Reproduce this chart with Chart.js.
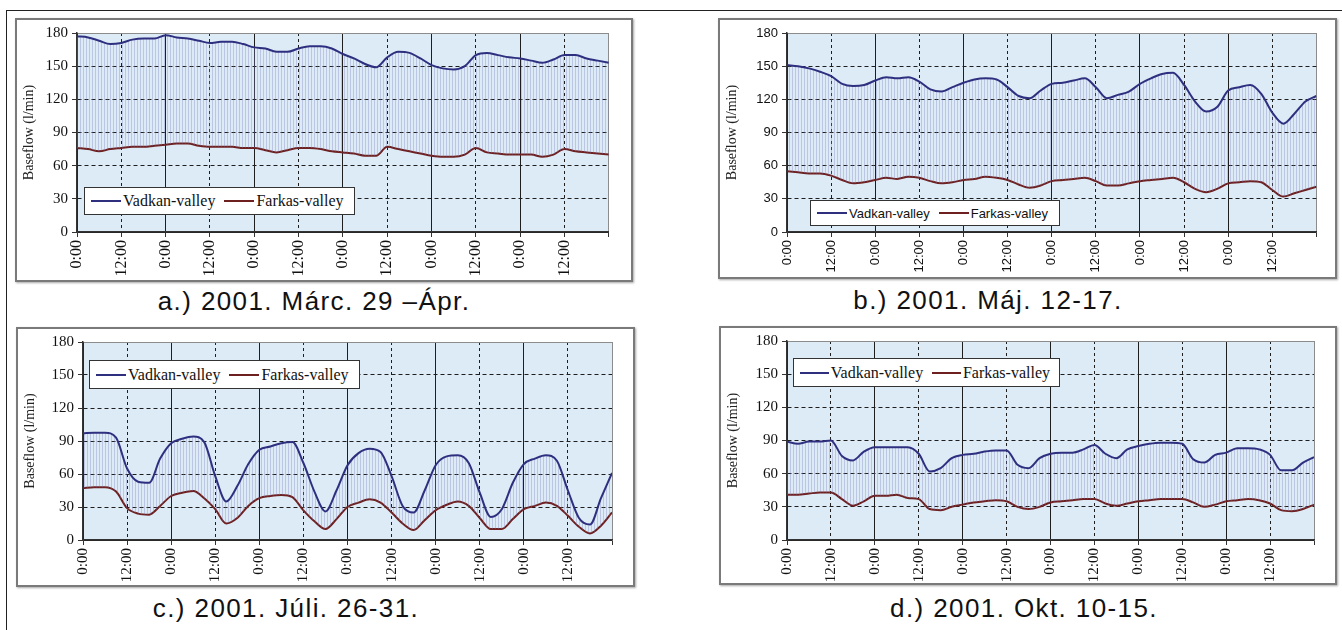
<!DOCTYPE html>
<html><head><meta charset="utf-8">
<script src="https://cdn.jsdelivr.net/npm/chart.js@4.4.1/dist/chart.umd.min.js"></script>
<style>
html,body{margin:0;padding:0;background:#fff;}
body{width:1342px;height:630px;position:relative;overflow:hidden;}
.frame{position:absolute;left:6px;top:10px;width:1400px;height:700px;border-left:1px solid #222;border-top:1px solid #222;}
.box{position:absolute;box-sizing:border-box;border:2px solid #7a7a7a;background:#fff;box-shadow:1px 1px 2px rgba(0,0,0,.35);}
.box canvas{position:absolute;left:0;top:0;}
.cap{position:absolute;width:460px;font-family:'Liberation Sans',Arial,sans-serif;font-size:26px;letter-spacing:1.4px;color:#111;white-space:nowrap;text-align:center;line-height:30px;}
.leg{position:absolute;box-sizing:border-box;border:1px solid #333;background:#fff;display:flex;align-items:center;white-space:nowrap;color:#111;padding-left:6px;}
.leg .sw{display:inline-block;height:2px;width:30px;margin-right:2px;}
.leg .tx{margin-right:9px;}
</style></head><body>
<div class="frame"></div>
<div id="root"></div>
<script>
// ---- data ----
const hours = [0,3,6,9,12,15,18,21,24,27,30,33,36,39,42,45,48,51,54,57,60,63,66,69,72,75,78,81,84,87,90,93,96,99,102,105,108,111,114,117,120,123,126,129,132,135,138,141,144];
const tickLabels = ['0:00','12:00'];
const seriesNames = ['Vadkan-valley','Farkas-valley'];
const panelTitles = ['a.) 2001. Márc. 29 –Ápr.','b.) 2001. Máj. 12-17.','c.) 2001. Júli. 26-31.','d.) 2001. Okt. 10-15.'];
const yAxisTitle = 'Baseflow (l/min)';

const vadkanA = [177,176,173,170,171,174,175,175,178,176,175,173,171,172,172,170,167,166,163,163,166,168,168,166,161,157,152,149,158,163,162,157,151,148,147,150,160,162,160,158,157,155,153,156,160,160,157,155,153];
const farkasA = [76,75,73,75,76,77,77,78,79,80,80,78,77,77,77,76,76,74,72,74,76,76,75,73,72,71,69,69,77,75,73,71,69,68,68,70,76,72,71,70,70,70,68,70,75,73,72,71,70];

const vadkanB = [151,150,148,145,141,134,132,133,137,140,139,140,136,129,127,131,135,138,139,138,131,123,121,128,134,135,137,139,131,121,124,127,134,139,143,144,133,118,109,113,128,131,133,125,108,98,107,118,123];
const farkasB = [55,54,53,53,51,47,44,45,47,49,48,50,49,46,44,45,47,48,50,49,47,43,40,42,46,47,48,49,46,42,42,44,46,47,48,49,45,39,36,39,44,45,46,45,38,32,35,38,41];

const vadkanC = [97,97.5,97.5,93,65,53,52,74,88,92,94,89,58,35,49,69,82,85,88,89,70,44,26,45,68,79,83,80,58,31,25,45,68,76,77,70,43,21,28,52,69,74,77,72,45,20,14,38,61];
const farkasC = [47,48,48,44,29,24,23,31,40,43,44.5,38,28,15,20,31,38,40,41,39,27,17,10,19,30,34,37,34,25,15,9,18,27,32,35,31,20,10,10,19,28,31,34,31,22,12,6,13,25];

const vadkanD = [89,87,89,89,90,76,72,80,84,84,84,84,78,62,65,74,77,78,80,81,81,68,65,74,78,79,79,82,86,78,74,82,85,87,88,88,87,73,70,77,79,83,83,82,77,63,63,70,75];
const farkasD = [41,41,42,43,43,37,31,35,40,40,41,38,37,28,27,30,32,34,35,36,35,30,28,30,34,35,36,37,37,33,31,33,35,36,37,37,37,34,30,32,35,36,37,36,33,27,26,28,32];

const vadkanSeries = [vadkanA, vadkanB, vadkanC, vadkanD];
const farkasSeries = [farkasA, farkasB, farkasC, farkasD];

// ---- style / layout ----
const BLUE = '#2f2f80';
const RED = '#6e1f1f';
const PLOT_BG = '#dcebf6';
const SERIF = "'Liberation Serif','Times New Roman',serif";
const SANS = "'Liberation Sans',Arial,sans-serif";

const layouts = [
  {box:[15,18,633,282], plot:[77,33,622,232], leg:[84,187,355,215], legFont:SERIF, legSize:16, tickFont:SERIF, xSize:16, ySize:15, cap:[314,286]},
  {box:[718,18,1337,279], plot:[787,33,1325,232], leg:[810,200,1060,226], legFont:SANS, legSize:13, tickFont:SANS, xSize:13, ySize:13, cap:[988,285]},
  {box:[16,327,635,587], plot:[83,340,629,540], leg:[89,360,360,389], legFont:SERIF, legSize:16, tickFont:SERIF, xSize:15, ySize:15, cap:[286,593]},
  {box:[719,326,1337,585], plot:[787,341,1329,540], leg:[793,358,1060,387], legFont:SERIF, legSize:16, tickFont:SERIF, xSize:15, ySize:15, cap:[1024,593]}
];

// hatch pattern for the band between the two series
function makeHatch(){
  const c = document.createElement('canvas');
  c.width = 3; c.height = 4;
  const x = c.getContext('2d');
  x.fillStyle = 'rgba(125,125,190,0.33)';
  x.fillRect(0,0,1,4);
  return x.createPattern(c,'repeat');
}
const hatch = makeHatch();

const plotBg = {
  id:'plotBg',
  beforeDraw(chart){
    const {ctx, chartArea:a} = chart;
    ctx.save(); ctx.fillStyle = PLOT_BG;
    ctx.fillRect(a.left, a.top, a.width, a.height);
    ctx.restore();
  }
};

const root = document.getElementById('root');
layouts.forEach((L, i) => {
  const [bl,bt,br,bb] = L.box;
  const [pl,pt,pr,pb] = L.plot;
  const box = document.createElement('div');
  box.className = 'box';
  Object.assign(box.style, {left:bl+'px', top:bt+'px', width:(br-bl)+'px', height:(bb-bt)+'px'});
  const cv = document.createElement('canvas');
  const cw = br-bl-4, ch = bb-bt-4;
  cv.width = cw; cv.height = ch;
  cv.style.width = cw+'px'; cv.style.height = ch+'px';
  box.appendChild(cv);
  root.appendChild(box);

  const yW = pl-(bl+2), xH = (bb-2)-pb, padTop = pt-(bt+2), padRight = (br-2)-pr;

  new Chart(cv.getContext('2d'), {
    type:'line',
    data:{datasets:[
      {label:seriesNames[0], data:hours.map((h,k)=>({x:h,y:vadkanSeries[i][k]})), borderColor:BLUE, borderWidth:2, pointRadius:0, fill:'+1', backgroundColor:hatch, cubicInterpolationMode:'monotone'},
      {label:seriesNames[1], data:hours.map((h,k)=>({x:h,y:farkasSeries[i][k]})), borderColor:RED, borderWidth:2, pointRadius:0, fill:false, cubicInterpolationMode:'monotone'}
    ]},
    options:{
      responsive:false, animation:false, devicePixelRatio:1,
      layout:{padding:{left:0, top:padTop, right:padRight, bottom:0}},
      plugins:{legend:{display:false}, tooltip:{enabled:false}},
      scales:{
        x:{
          type:'linear', min:0, max:144,
          afterFit(s){ s.height = xH; },
          ticks:{stepSize:12, autoSkip:false, minRotation:90, maxRotation:90, padding:3, color:'#111',
            font:{family:L.tickFont, size:L.xSize},
            callback:(v)=> v===144 ? '' : tickLabels[(v%24===0)?0:1]},
          grid:{lineWidth:1, tickLength:5, tickColor:'#333',
            color:(c)=> (c.tick && c.tick.value===144) ? '#8c8c8c' : '#1e1e1e'},
          border:{color:'#333', width:1.5,
            dash:(c)=> (c.tick && c.tick.value%24===12) ? [3,3] : []}
        },
        y:{
          min:0, max:180,
          afterFit(s){ s.width = yW; },
          ticks:{stepSize:30, padding:4, color:'#111', font:{family:L.tickFont, size:L.ySize}},
          title:{display:true, text:yAxisTitle, color:'#222', font:{family:SERIF, size:14}, padding:{top:4,bottom:0}},
          grid:{lineWidth:1, tickLength:5, tickColor:'#333',
            color:(c)=> (c.tick && c.tick.value===180) ? '#8c8c8c' : '#1e1e1e'},
          border:{color:'#333', width:1.5,
            dash:(c)=> (c.tick && c.tick.value>0 && c.tick.value<180) ? [4,3] : []}
        }
      }
    },
    plugins:[plotBg]
  });

  // legend
  const [ll,lt,lr,lb] = L.leg;
  const leg = document.createElement('div');
  leg.className = 'leg';
  Object.assign(leg.style, {left:ll+'px', top:lt+'px', width:(lr-ll)+'px', height:(lb-lt)+'px', fontFamily:L.legFont, fontSize:L.legSize+'px'});
  [BLUE, RED].forEach((col, k) => {
    const sw = document.createElement('span'); sw.className='sw'; sw.style.background = col;
    const tx = document.createElement('span'); tx.className='tx'; tx.textContent = seriesNames[k];
    leg.appendChild(sw); leg.appendChild(tx);
  });
  root.appendChild(leg);

  // caption
  const cap = document.createElement('div');
  cap.className = 'cap';
  cap.textContent = panelTitles[i];
  cap.style.left = (L.cap[0]-230)+'px';
  cap.style.top = L.cap[1]+'px';
  root.appendChild(cap);
});
</script>
</body></html>
